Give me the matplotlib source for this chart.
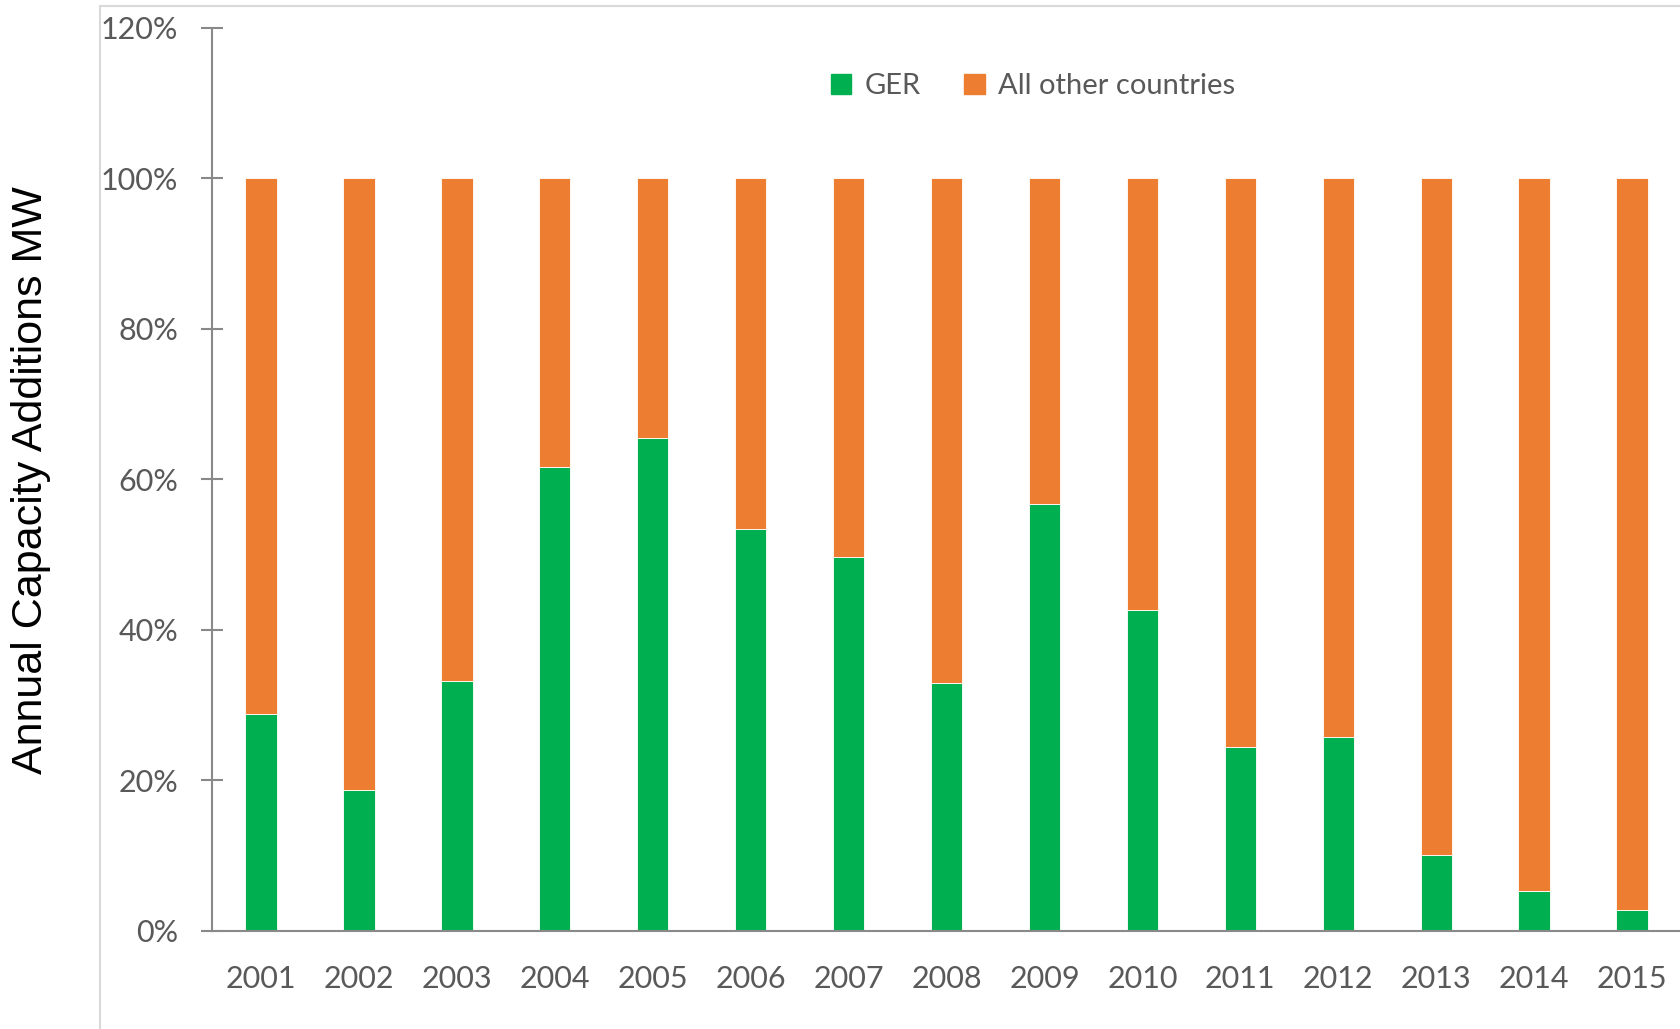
import matplotlib.pyplot as plt
from matplotlib.patches import Patch, Rectangle
from matplotlib.ticker import PercentFormatter
import numpy as np

years = ["2001", "2002", "2003", "2004", "2005", "2006", "2007", "2008",
         "2009", "2010", "2011", "2012", "2013", "2014", "2015"]
ger_share = [28.8, 18.7, 33.2, 61.7, 65.5, 53.4, 49.7, 32.9,
             56.7, 42.6, 24.4, 25.8, 10.1, 5.2, 2.8]
other_share = [100 - g for g in ger_share]

GREEN = "#00B050"
ORANGE = "#ED7D31"
AXIS_GRAY = "#898989"
TEXT_GRAY = "#595959"

W, H = 1681, 1029
fig = plt.figure(figsize=(W / 100, H / 100), dpi=100)

# light chart-area frame (runs off the right/bottom edge)
fig.patches.append(Rectangle((100 / W, -0.1), 1.2, 1 - 6 / H + 0.1,
                             transform=fig.transFigure, fill=False,
                             edgecolor="#d9d9d9", linewidth=1.5))

ax = fig.add_axes([212 / W, 98.4 / H, (1684 - 212) / W, (1001 - 98.4) / H])
x = np.arange(len(years))
ax.bar(x, ger_share, width=0.32, color=GREEN, edgecolor="white", linewidth=0.6)
ax.bar(x, other_share, width=0.32, bottom=ger_share, color=ORANGE,
       edgecolor="white", linewidth=0.6)

ax.set_xlim(-0.5, len(years) - 0.47)
ax.set_ylim(0, 120)
ax.set_yticks(range(0, 121, 20))
ax.yaxis.set_major_formatter(PercentFormatter(decimals=0))
ax.set_xticks(x)
ax.set_xticklabels(years)

for s in ["top", "right"]:
    ax.spines[s].set_visible(False)
for s in ["left", "bottom"]:
    ax.spines[s].set_color(AXIS_GRAY)
    ax.spines[s].set_linewidth(1.5)

ax.tick_params(axis="y", direction="inout", length=16.5, width=1.5,
               color=AXIS_GRAY, labelcolor=TEXT_GRAY, labelsize=22, pad=16)
ax.tick_params(axis="x", length=0, labelcolor=TEXT_GRAY, labelsize=22, pad=25)
for lbl in ax.get_xticklabels() + ax.get_yticklabels():
    lbl.set_fontfamily("Lato")

fig.text(31 / W, 1 - 480 / H, "Annual Capacity Additions MW", rotation=90,
         ha="center", va="center", fontsize=31, family="Liberation Sans",
         color="black")

handles = [Patch(color=GREEN, label="GER"),
           Patch(color=ORANGE, label="All other countries")]
fig.legend(handles=handles, loc="center", bbox_to_anchor=(1033 / W, 1 - 86 / H),
           ncol=2, frameon=False, handlelength=0.7, handleheight=0.7,
           handletextpad=0.45, columnspacing=1.5,
           prop={"family": "Lato", "size": 21}, labelcolor=TEXT_GRAY)

fig.savefig("out.png", dpi=100)
